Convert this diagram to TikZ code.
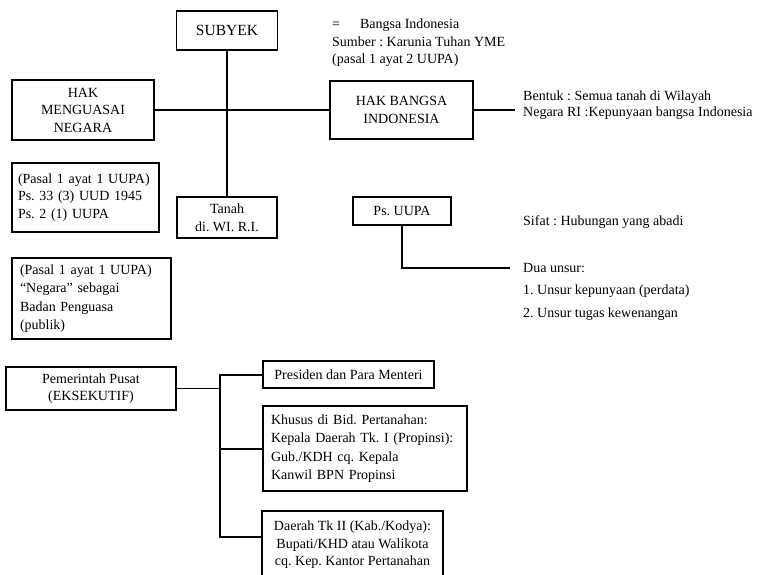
\documentclass[tikz,border=0pt]{standalone}
\usepackage{fontspec}
\setmainfont{Liberation Serif}
\usetikzlibrary{positioning}
\frenchspacing

\begin{document}
\begin{tikzpicture}[
  x=1pt, y=-1pt,
  box/.style     = {draw, line width=1.6pt, align=center, inner sep=0pt,
                    font=\fontsize{14}{17.5}\selectfont},
  lbox/.style    = {box, align=left, inner xsep=8pt},
  note/.style    = {anchor=west, align=left, inner sep=0pt,
                    font=\fontsize{14}{17.5}\selectfont},
  link/.style    = {line width=1.3pt},
  bracket/.style = {line width=2pt}
]
\useasboundingbox[fill=white] (0,0) rectangle (765,575);

%% ---- top: subject, the two rights, land ------------------------------
\node[box, minimum width=101, minimum height=39,
      font=\fontsize{15.5}{18}\selectfont] (subyek) at (227,30.5) {SUBYEK};

\node[box, minimum width=142, minimum height=60] (hmn) at (83,110)
  {HAK\\MENGUASAI\\NEGARA};
\node[box, minimum width=143, minimum height=58] (hbi) at (401.5,110)
  {HAK BANGSA\\INDONESIA};

\node[box, minimum width=100, minimum height=41] (tanah) at (227,217.5)
  {Tanah\\di. WI. R.I.};

\draw[link] (subyek.south) -- (tanah.north);
\draw[link] (hmn) -- (hbi);

\node[note] (sumber) at (332,43)
  {=\hspace{20pt}Bangsa Indonesia\\
   Sumber : Karunia Tuhan YME\\
   (pasal 1 ayat 2 UUPA)};

\coordinate (bentukend) at (515,110);
\draw[link] (hbi) -- (bentukend);
\node[note, font=\fontsize{14}{16}\selectfont] (bentuk) at (523,105)
  {Bentuk : Semua tanah di Wilayah\\
   Negara RI :Kepunyaan bangsa Indonesia};

%% ---- left column: legal bases ----------------------------------------
\node[lbox, inner xsep=6pt, text width=135, minimum height=69] (pasal1)
  at (85.5,197.5)
  {(Pasal 1 ayat 1 UUPA)\\Ps. 33 (3) UUD 1945\\Ps. 2 (1) UUPA};
\node[lbox, text width=143, minimum height=81,
      font=\fontsize{14}{18.3}\selectfont] (pasal2) at (91.5,298.5)
  {(Pasal 1 ayat 1 UUPA)\\“Negara” sebagai\\Badan Penguasa\\(publik)};

%% ---- right: Ps. UUPA and its two elements ----------------------------
\node[box, minimum width=98, minimum height=28] (psuupa) at (402,211)
  {Ps. UUPA};
\node[note] (sifat) at (523,222) {Sifat : Hubungan yang abadi};

\coordinate (unsurend) at (510,268);
\draw[link] (psuupa.south) |- (unsurend);
\node[note, font=\fontsize{14}{22.5}\selectfont] (unsur) at (523,291.5)
  {Dua unsur:\\1. Unsur kepunyaan (perdata)\\2. Unsur tugas kewenangan};

%% ---- bottom: executive branch ----------------------------------------
\node[box, minimum width=170, minimum height=43] (pusat) at (91,388.5)
  {Pemerintah Pusat\\(EKSEKUTIF)};
\node[box, minimum width=171, minimum height=27] (presiden) at (348.5,374.5)
  {Presiden dan Para Menteri};
\node[lbox, text width=188, minimum height=85,
      font=\fontsize{14}{18.3}\selectfont] (khusus) at (365,448.5)
  {Khusus di Bid. Pertanahan:\\Kepala Daerah Tk. I (Propinsi):\\
   Gub./KDH cq. Kepala\\Kanwil BPN Propinsi};
\node[box, anchor=north, minimum width=181, minimum height=68] (daerah)
  at (352.5,510)
  {Daerah Tk II (Kab./Kodya):\\Bupati/KHD atau Walikota\\
   cq. Kep. Kantor Pertanahan};

\coordinate (fork) at (220,388.5);
\coordinate (daerahin) at (262,537);
\draw[link] (pusat) -- (fork);
\draw[bracket] (presiden.west) -| (fork) |- (daerahin);
\draw[bracket] (fork |- khusus.west) -- (khusus.west);

\end{tikzpicture}
\end{document}
